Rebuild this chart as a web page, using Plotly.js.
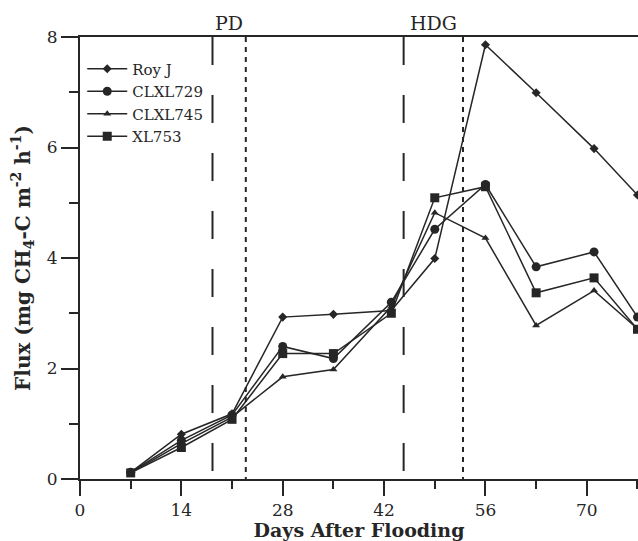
<!DOCTYPE html>
<html><head><meta charset="utf-8">
<script src="https://cdn.plot.ly/plotly-3.0.1.min.js"></script>
<style>html,body{margin:0;padding:0;background:#fff}</style>
</head><body><div id="chart" style="width:638px;height:541px"></div>
<script>
const days = [7, 14, 21, 28, 35, 43, 49, 56, 63, 71, 77];
const royJ = [0.12, 0.81, 1.18, 2.93, 2.98, 3.05, 3.99, 7.86, 6.99, 5.98, 5.14];
const clxl729 = [0.12, 0.70, 1.16, 2.40, 2.18, 3.20, 4.52, 5.33, 3.84, 4.11, 2.93];
const clxl745 = [0.11, 0.64, 1.12, 1.85, 1.98, 3.12, 4.82, 4.36, 2.78, 3.41, 2.72];
const xl753 = [0.11, 0.57, 1.08, 2.27, 2.27, 3.00, 5.09, 5.29, 3.37, 3.64, 2.71];
const seriesNames = ['Roy J', 'CLXL729', 'CLXL745', 'XL753'];
const eventLabels = ['PD', 'HDG'];
const eventDashDays = [18.3, 44.7];
const eventDotDays = [22.9, 52.9];
const xTickVals = [0, 14, 28, 42, 56, 70];
const yTickVals = [0, 2, 4, 6, 8];

const ink = '#262626';
const font = 'DejaVu Serif, Liberation Serif, serif';
const symbols = ['diamond', 'circle', 'triangle-up', 'square'];
const sizes = [7, 9, 7, 9];
const values = [royJ, clxl729, clxl745, xl753];

const traces = values.map((v, i) => ({
  x: days, y: v, name: seriesNames[i], type: 'scatter', mode: 'lines+markers',
  line: {color: ink, width: 1.5},
  marker: {symbol: symbols[i], size: sizes[i], color: ink}
}));

const shapes = [];
eventDashDays.forEach(d => shapes.push({type: 'line', xref: 'x', yref: 'paper', x0: d, x1: d, y0: 1, y1: 0,
  line: {color: ink, width: 2, dash: '28px,30px'}}));
eventDotDays.forEach(d => shapes.push({type: 'line', xref: 'x', yref: 'paper', x0: d, x1: d, y0: 1, y1: 0,
  line: {color: ink, width: 2, dash: '5px,5px'}}));

const annotations = eventLabels.map((t, i) => ({
  text: t, xref: 'x', yref: 'paper', x: (eventDashDays[i] + eventDotDays[i]) / 2, y: 1.031,
  xanchor: 'center', yanchor: 'middle', showarrow: false,
  font: {family: font, size: 19, color: ink}
}));

const layout = {
  width: 638, height: 541,
  margin: {l: 80, r: 0, t: 37, b: 62},
  paper_bgcolor: '#fff', plot_bgcolor: '#fff',
  font: {family: font, color: ink, size: 17},
  showlegend: true,
  legend: {x: 0.004, y: 0.965, xanchor: 'left', yanchor: 'top', bgcolor: 'rgba(0,0,0,0)',
    font: {family: font, size: 15, color: ink}, itemwidth: 40, tracegroupgap: 0},
  xaxis: {range: [0, 77.07], tickvals: xTickVals, ticks: 'outside', ticklen: 15, tickwidth: 2, tickcolor: ink,
    showline: true, linewidth: 2, linecolor: ink, mirror: true, showgrid: false, zeroline: false,
    tickfont: {family: font, size: 17, color: ink},
    minor: {dtick: 7, tick0: 0, ticks: 'outside', ticklen: 8, tickwidth: 2, tickcolor: ink, showgrid: false},
    title: {text: '<b>Days After Flooding</b>', font: {family: font, size: 19, color: ink}, standoff: 2}},
  yaxis: {range: [0, 8], tickvals: yTickVals, ticks: 'outside', ticklen: 17, tickwidth: 2, tickcolor: ink,
    showline: true, linewidth: 2, linecolor: ink, mirror: false, showgrid: false, zeroline: false,
    tickfont: {family: font, size: 17, color: ink},
    minor: {dtick: 1, tick0: 0, ticks: 'outside', ticklen: 9, tickwidth: 2, tickcolor: ink, showgrid: false},
    title: {text: '<b>Flux (mg CH<sub>4</sub>-C m<sup>-2</sup> h<sup>-1</sup>)</b>', font: {family: font, size: 20, color: ink}, standoff: 11}},
  shapes: shapes,
  annotations: annotations
};

Plotly.newPlot('chart', traces, layout, {displayModeBar: false, staticPlot: true});
</script>
</body></html>
